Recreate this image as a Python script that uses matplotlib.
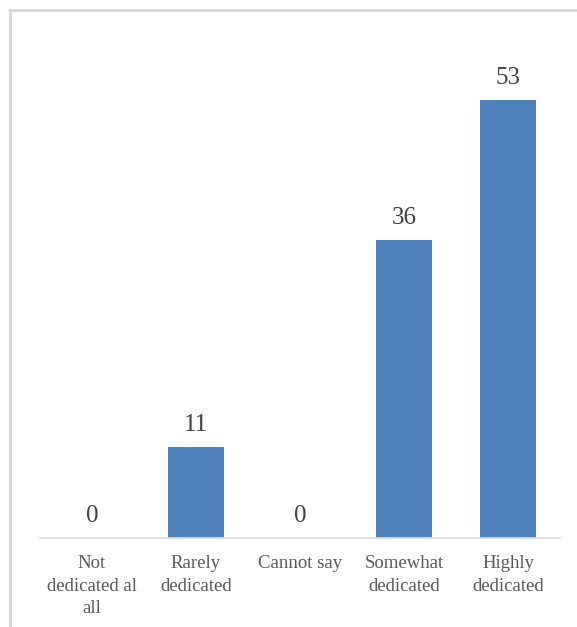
import matplotlib.pyplot as plt
from matplotlib.patches import Rectangle

categories = ["Not\ndedicated al\nall", "Rarely\ndedicated", "Cannot say",
              "Somewhat\ndedicated", "Highly\ndedicated"]
counts = [0, 11, 0, 36, 53]

BAR_COLOR = "#4F81BD"
TEXT_COLOR = "#595959"
VALUE_COLOR = "#404040"

plt.rcParams["font.family"] = ["Liberation Serif", "DejaVu Serif"]

W, H = 577, 627
fig = plt.figure(figsize=(W / 100, H / 100), dpi=100)

# outer chart frame, clipped by the right and bottom edges
fig.patches.append(Rectangle((10 / W, -0.1), 1.2, 1.1 - 10 / H,
                             transform=fig.transFigure, fill=False,
                             edgecolor="#D9D9D9", linewidth=2.2))

ax = fig.add_axes([40 / W, (H - 538) / H, 520 / W, 496 / H])
x = range(len(categories))
ax.bar(x, counts, width=0.53, color=BAR_COLOR)
ax.set_xlim(-0.5, len(categories) - 0.5)
ax.set_ylim(0, 60)

for xi, v in zip(x, counts):
    ax.annotate(str(v), (xi, v), xytext=(0, 11.5), textcoords="offset points",
                ha="center", va="baseline", fontsize=18, color=VALUE_COLOR)

for side in ("top", "right", "left"):
    ax.spines[side].set_visible(False)
ax.spines["bottom"].set_color("#D9D9D9")
ax.spines["bottom"].set_linewidth(1.2)
ax.set_yticks([])
ax.set_xticks(list(x))
ax.set_xticklabels(categories, fontsize=13.5, color=TEXT_COLOR, linespacing=1.4,
                   va="top")
ax.tick_params(axis="x", length=0, pad=12.5)

fig.savefig("out.png", dpi=100)
